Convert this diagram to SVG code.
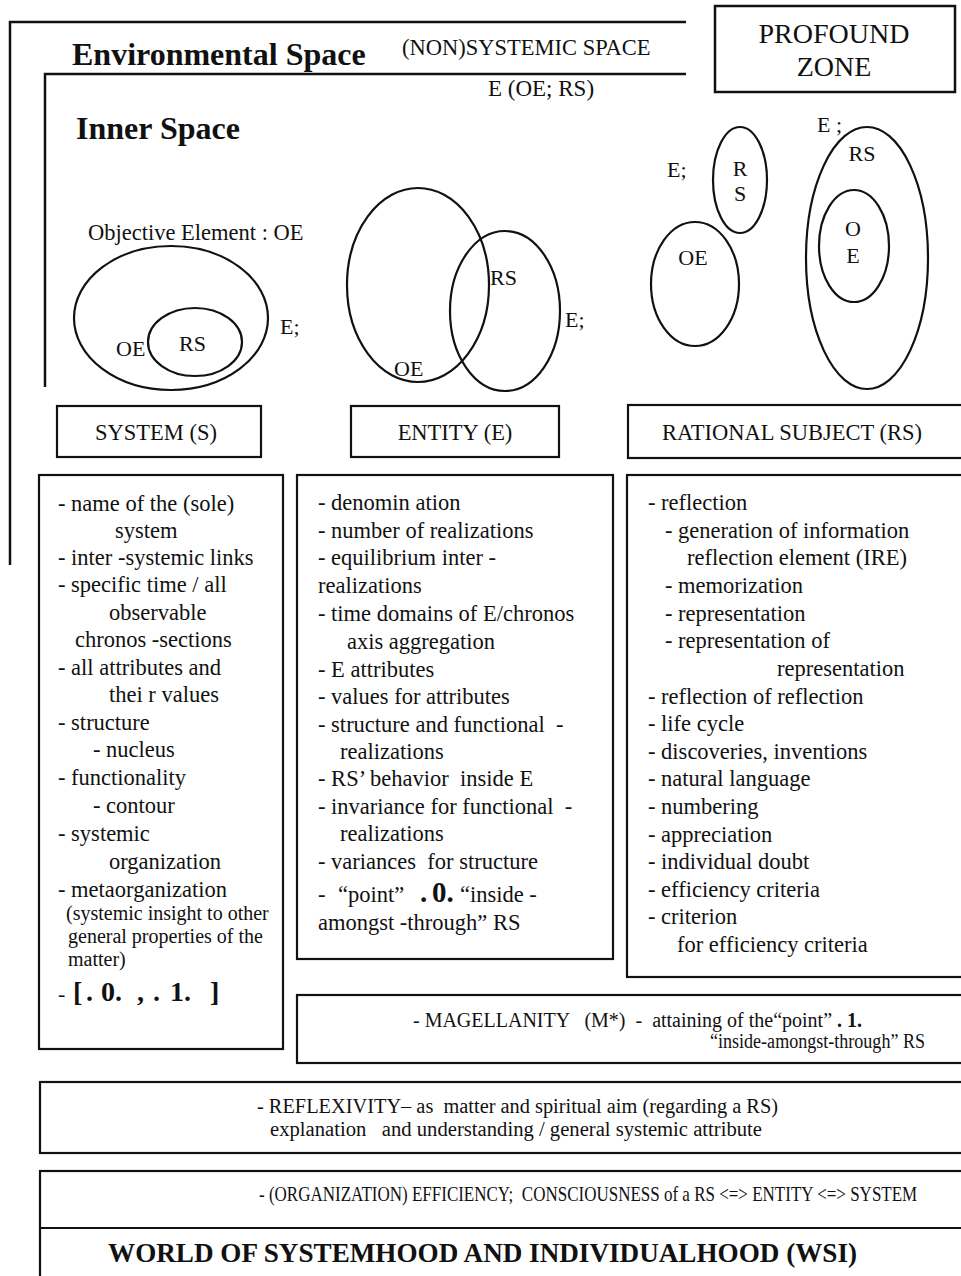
<svg xmlns="http://www.w3.org/2000/svg" width="961" height="1276" viewBox="0 0 961 1276">
<style>
.ln{fill:none;stroke:#111;stroke-width:2.5}
.sh{fill:none;stroke:#111;stroke-width:2.2}
.t{font-family:"Liberation Serif","Times New Roman",serif;fill:#111}
.b{font-weight:bold}
.l{font-size:22.5px}
.s{font-size:20px}
.e{font-size:22px}
.m{text-anchor:middle}
</style>
<rect width="961" height="1276" fill="#fff"/>
<g id="frames">
<polyline class="ln" points="10,565 10,22 686,22"/>
<polyline class="ln" points="45,387 45,74 686,74"/>
<text class="t b" x="72" y="65" font-size="32">Environmental Space</text>
<text class="t" x="402" y="55" font-size="22.5">(NON)SYSTEMIC SPACE</text>
<text class="t" x="488" y="96" font-size="23">E (OE; RS)</text>
<text class="t b" x="76" y="139" font-size="32">Inner Space</text>
</g>
<g id="profound-zone">
<rect class="ln" x="715" y="6" width="240" height="86"/>
<text class="t m" x="834" y="43" font-size="28">PROFOUND</text>
<text class="t m" x="834" y="76" font-size="28">ZONE</text>
</g>
<g id="system-figure">
<text class="t" x="88" y="240" font-size="22.5">Objective Element : OE</text>
<ellipse class="sh" cx="171" cy="318" rx="97" ry="72"/>
<ellipse class="sh" cx="195" cy="342" rx="47" ry="34"/>
<text class="t e" x="116" y="356">OE</text>
<text class="t e" x="179" y="351">RS</text>
<text class="t e" x="280" y="334">E;</text>
</g>
<g id="entity-figure">
<ellipse class="sh" cx="418" cy="285" rx="71" ry="97"/>
<ellipse class="sh" cx="505" cy="311" rx="55" ry="80"/>
<text class="t e" x="490" y="285">RS</text>
<text class="t e" x="565" y="327">E;</text>
<text class="t e" x="394" y="376">OE</text>
</g>
<g id="rs-figure">
<text class="t e" x="667" y="177">E;</text>
<ellipse class="sh" cx="740" cy="180" rx="27" ry="53"/>
<text class="t e m" x="740" y="176">R</text>
<text class="t e m" x="740" y="201">S</text>
<ellipse class="sh" cx="695" cy="284" rx="44" ry="62"/>
<text class="t e m" x="693" y="265">OE</text>
<text class="t e" x="817" y="132">E ;</text>
<ellipse class="sh" cx="867" cy="258" rx="61" ry="131"/>
<text class="t e m" x="862" y="161">RS</text>
<ellipse class="sh" cx="854" cy="246" rx="35" ry="56"/>
<text class="t e m" x="853" y="236">O</text>
<text class="t e m" x="853" y="263">E</text>
</g>
<g id="system-label">
<rect class="sh" x="57" y="406" width="204" height="51"/>
<text class="t m" x="156" y="440" font-size="22.5">SYSTEM (S)</text>
</g>
<g id="entity-label">
<rect class="sh" x="351" y="406" width="208" height="51"/>
<text class="t m" x="455" y="440" font-size="22.5">ENTITY (E)</text>
</g>
<g id="rs-label">
<rect class="sh" x="628" y="405" width="340" height="53"/>
<text class="t m" x="792" y="440" font-size="22.5">RATIONAL SUBJECT (RS)</text>
</g>
<g id="system-list">
<rect class="sh" x="39" y="475" width="244" height="574"/>
<text class="t l" x="58" y="511">- name of the (sole)</text>
<text class="t l" x="115" y="538">system</text>
<text class="t l" x="58" y="565">- inter -systemic links</text>
<text class="t l" x="58" y="592">- specific time / all</text>
<text class="t l" x="109" y="620">observable</text>
<text class="t l" x="75" y="647">chronos -sections</text>
<text class="t l" x="58" y="675">- all attributes and</text>
<text class="t l" x="109" y="702">thei r values</text>
<text class="t l" x="58" y="730">- structure</text>
<text class="t l" x="93" y="757">- nucleus</text>
<text class="t l" x="58" y="785">- functionality</text>
<text class="t l" x="93" y="813">- contour</text>
<text class="t l" x="58" y="841">- systemic</text>
<text class="t l" x="109" y="869">organization</text>
<text class="t l" x="58" y="897">- metaorganization</text>
<text class="t s" x="66" y="920">(systemic insight to other</text>
<text class="t s" x="68" y="943">general properties of the</text>
<text class="t s" x="68" y="966">matter)</text>
<text class="t" y="1001" font-size="22"><tspan x="58">-</tspan><tspan class="b" font-size="28" x="73">[</tspan><tspan class="b" font-size="28" x="86">.</tspan><tspan class="b" font-size="28" x="101">0.</tspan><tspan class="b" font-size="28" x="137">,</tspan><tspan class="b" font-size="28" x="153">.</tspan><tspan class="b" font-size="28" x="170">1.</tspan><tspan class="b" font-size="28" x="210">]</tspan></text>
</g>
<g id="entity-list">
<rect class="sh" x="297" y="475" width="316" height="484"/>
<text class="t l" x="318" y="510">- denomin ation</text>
<text class="t l" x="318" y="538">- number of realizations</text>
<text class="t l" x="318" y="565">- equilibrium inter -</text>
<text class="t l" x="318" y="593">realizations</text>
<text class="t l" x="318" y="621">- time domains of E/chronos</text>
<text class="t l" x="347" y="649">axis aggregation</text>
<text class="t l" x="318" y="677">- E attributes</text>
<text class="t l" x="318" y="704">- values for attributes</text>
<text class="t l" x="318" y="732" xml:space="preserve">- structure and functional  -</text>
<text class="t l" x="340" y="759">realizations</text>
<text class="t l" x="318" y="786" xml:space="preserve">- RS’ behavior  inside E</text>
<text class="t l" x="318" y="814" xml:space="preserve">- invariance for functional  -</text>
<text class="t l" x="340" y="841">realizations</text>
<text class="t l" x="318" y="869" xml:space="preserve">- variances  for structure</text>
<text class="t l" y="902"><tspan x="318">-</tspan><tspan x="338">“point”</tspan><tspan class="b" font-size="29" x="420">.</tspan><tspan class="b" font-size="29" x="432">0.</tspan><tspan x="460">“</tspan><tspan x="470">inside -</tspan></text>
<text class="t l" x="318" y="930">amongst -through” RS</text>
</g>
<g id="rs-list">
<rect class="sh" x="627" y="475" width="340" height="502"/>
<text class="t l" x="648" y="510">- reflection</text>
<text class="t l" x="665" y="538">- generation of information</text>
<text class="t l" x="687" y="565">reflection element (IRE)</text>
<text class="t l" x="665" y="593">- memorization</text>
<text class="t l" x="665" y="621">- representation</text>
<text class="t l" x="665" y="648">- representation of</text>
<text class="t l" x="777" y="676">representation</text>
<text class="t l" x="648" y="704">- reflection of reflection</text>
<text class="t l" x="648" y="731">- life cycle</text>
<text class="t l" x="648" y="759">- discoveries, inventions</text>
<text class="t l" x="648" y="786">- natural language</text>
<text class="t l" x="648" y="814">- numbering</text>
<text class="t l" x="648" y="842">- appreciation</text>
<text class="t l" x="648" y="869">- individual doubt</text>
<text class="t l" x="648" y="897">- efficiency criteria</text>
<text class="t l" x="648" y="924">- criterion</text>
<text class="t l" x="677" y="952">for efficiency criteria</text>
</g>
<g id="magellanity">
<rect class="sh" x="297" y="995" width="670" height="68"/>
<text class="t" x="413" y="1027" font-size="20" textLength="449" lengthAdjust="spacingAndGlyphs" xml:space="preserve">- MAGELLANITY   (M*)  -  attaining of the“point” <tspan class="b">. 1.</tspan></text>
<text class="t" x="710" y="1048" font-size="20" textLength="215" lengthAdjust="spacingAndGlyphs">“inside-amongst-through” RS</text>
</g>
<g id="reflexivity">
<rect class="sh" x="40" y="1082" width="927" height="71"/>
<text class="t" x="257" y="1113" font-size="20" textLength="521" lengthAdjust="spacingAndGlyphs" xml:space="preserve">- REFLEXIVITY– as  matter and spiritual aim (regarding a RS)</text>
<text class="t" x="270" y="1136" font-size="20" textLength="492" lengthAdjust="spacingAndGlyphs" xml:space="preserve">explanation   and understanding / general systemic attribute</text>
</g>
<g id="efficiency-wsi">
<rect class="sh" x="40" y="1171" width="927" height="120"/>
<line class="sh" x1="40" y1="1228" x2="967" y2="1228"/>
<text class="t" transform="translate(259,1201) scale(0.81,1)" x="0" y="0" font-size="21" xml:space="preserve">- (ORGANIZATION) EFFICIENCY;  CONSCIOUSNESS of a RS &lt;=&gt; ENTITY &lt;=&gt; SYSTEM</text>
<text class="t b" x="108" y="1262" font-size="28" textLength="749" lengthAdjust="spacingAndGlyphs">WORLD OF SYSTEMHOOD AND INDIVIDUALHOOD (WSI)</text>
</g>
</svg>
